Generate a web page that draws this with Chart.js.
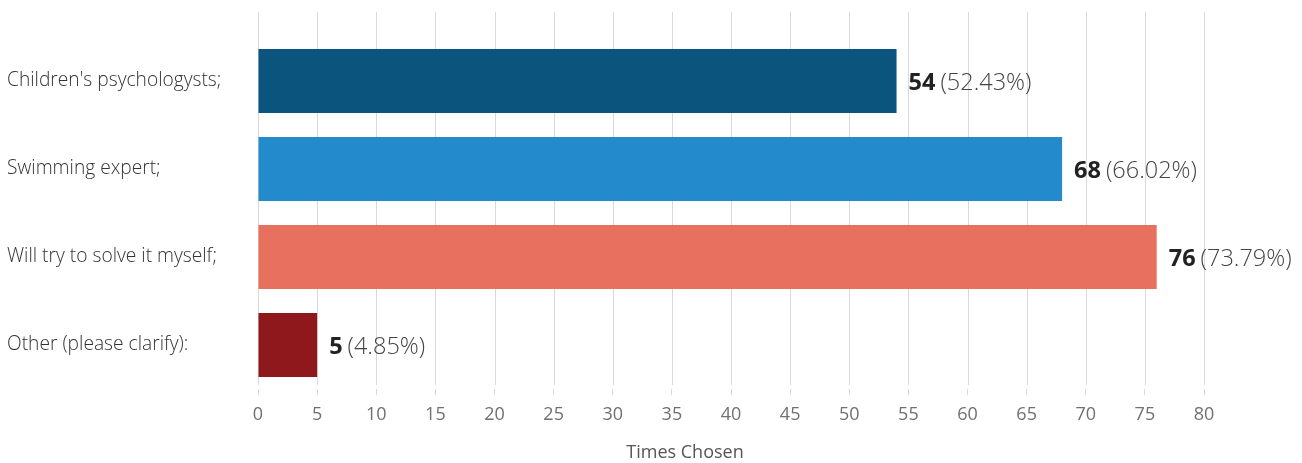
<!DOCTYPE html>
<html>
<head>
<meta charset="utf-8">
<script src="https://cdn.jsdelivr.net/npm/chart.js@4"></script>
<style>
  html, body { margin: 0; padding: 0; background: #fff; }
  #wrap { width: 1302px; height: 463px; }
</style>
</head>
<body>
<div id="wrap"><canvas id="answersChart"></canvas></div>
<script>
// Survey answers
const categories = ['Children\'s psychologysts;', 'Swimming expert;', 'Will try to solve it myself;', 'Other (please clarify):'];
const timesChosen = [54, 68, 76, 5];
const percents = ['52.43%', '66.02%', '73.79%', '4.85%'];
const barColors = ['#0b547e', '#238bcb', '#e8705e', '#8e181c'];
const axisTitle = 'Times Chosen';

const FONT = '"Open Sans", sans-serif';

// draws the vertical grid lines up past the chart area top
const tallGrid = {
    id: 'tallGrid',
    beforeDatasetsDraw(chart) {
        const ctx = chart.ctx;
        const x = chart.scales.x;
        const area = chart.chartArea;
        ctx.save();
        ctx.strokeStyle = '#d9d9d9';
        ctx.lineWidth = 1;
        x.ticks.forEach(t => {
            const px = Math.round(x.getPixelForValue(t.value)) + 0.5;
            ctx.beginPath();
            ctx.moveTo(px, 12);
            ctx.lineTo(px, area.bottom - 4);
            ctx.stroke();
        });
        ctx.restore();
    }
};

// "54 (52.43%)" style labels after each bar, plus the axis title
const valueLabels = {
    id: 'valueLabels',
    afterDatasetsDraw(chart) {
        const ctx = chart.ctx;
        const meta = chart.getDatasetMeta(0);
        ctx.save();
        ctx.textBaseline = 'middle';
        meta.data.forEach((bar, i) => {
            let x = bar.x + 12;
            const y = bar.y + 2;
            ctx.font = 'bold 23.5px ' + FONT;
            ctx.fillStyle = '#222';
            const num = String(timesChosen[i]);
            ctx.fillText(num, x, y);
            x += ctx.measureText(num).width + 5;
            ctx.font = '300 23.5px ' + FONT;
            ctx.fillStyle = '#444';
            ctx.fillText('(' + percents[i] + ')', x, y);
        });
        // title sits left of the plot centre in the original
        ctx.font = '18px ' + FONT;
        ctx.fillStyle = '#555';
        ctx.textAlign = 'center';
        ctx.fillText(axisTitle, 685, 453);
        ctx.restore();
    }
};

const ctx = document.getElementById('answersChart').getContext('2d');
new Chart(ctx, {
    type: 'bar',
    data: {
        labels: categories,
        datasets: [{
            data: timesChosen,
            backgroundColor: barColors,
            barPercentage: 0.727,
            categoryPercentage: 1
        }]
    },
    options: {
        indexAxis: 'y',
        responsive: true,
        maintainAspectRatio: false,
        animation: false,
        layout: { padding: { left: 7, right: 98, top: 37, bottom: 4 } },
        plugins: {
            legend: { display: false },
            tooltip: { enabled: false }
        },
        scales: {
            x: {
                min: 0,
                max: 80,
                ticks: { stepSize: 5, color: '#707070', padding: 9, font: { family: FONT, size: 18 } },
                grid: { display: true, drawOnChartArea: false, color: '#d9d9d9', tickLength: 6 },
                border: { display: false },
                title: { display: false },
                afterFit(scale) { scale.height = 70; }
            },
            y: {
                ticks: { crossAlign: 'far', color: '#333', font: { family: FONT, size: 19.2, weight: '300' } },
                grid: { display: false },
                border: { display: false },
                afterFit(scale) { scale.width = 251; }
            }
        }
    },
    plugins: [tallGrid, valueLabels]
});
</script>
</body>
</html>
